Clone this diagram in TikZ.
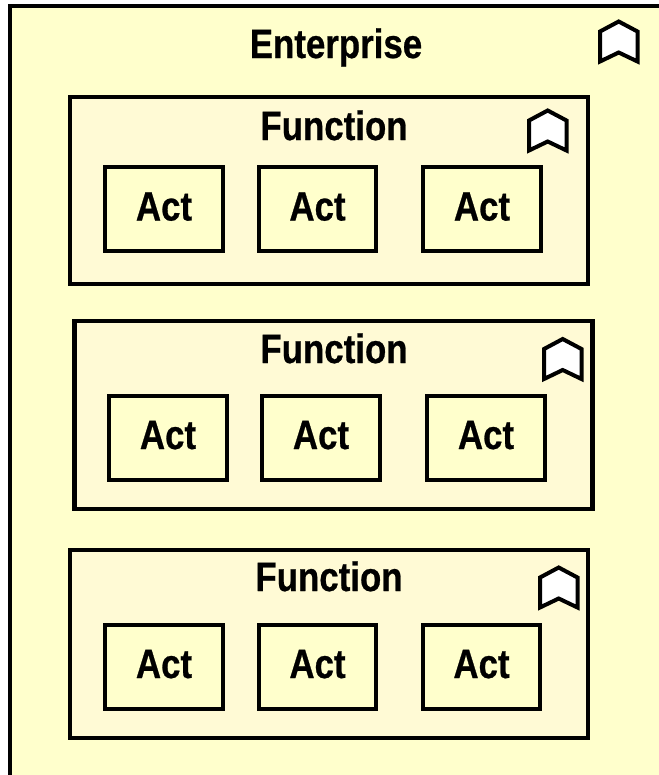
\documentclass[tikz,border=0pt]{standalone}
\usepackage{fontspec}
\newfontfamily\labelfont[FakeStretch=0.85,FakeBold=0.6]{Liberation Sans Bold}
\definecolor{outerfill}{HTML}{FFFFCC}
\definecolor{funcfill}{HTML}{FFFAD5}
\definecolor{actfill}{HTML}{FFFFCC}
\tikzset{
  px/.style={x=0.75pt,y=-0.75pt},
  funcbox/.style={draw=black,line width=3.1pt,fill=funcfill,rectangle,inner sep=0pt,minimum width=388.5pt,minimum height=140.5pt},
  actbox/.style={draw=black,line width=3pt,fill=actfill,rectangle,inner sep=0pt,minimum width=88pt,minimum height=63pt,
    font=\labelfont\fontsize{30.75pt}{32pt}\selectfont,text height=17.25pt,text depth=0pt},
  titletext/.style={inner sep=0pt,anchor=base,font=\labelfont\fontsize{30.75pt}{32pt}\selectfont},
  bookmark/.pic={
    \draw[line width=3pt,fill=white,miter limit=10] (0,10) -- (18.7,0) -- (37.5,10) -- (37.5,40) -- (18.7,31) -- (0,40) -- cycle;
  }
}
\begin{document}
\begin{tikzpicture}[px]
\useasboundingbox (0,0) rectangle (659,775);
\fill[white] (0,0) rectangle (659,775);
\fill[outerfill] (10.3,6) rectangle (659,775);
\draw[line width=3.1pt] (10.3,775) -- (10.3,6) -- (659,6);
\node[titletext] (enterprise) at (336,58) {Enterprise};
\pic at (600,21.5) {bookmark};
% Function 1
\node[funcbox] (f1) at (329,190.5) {};
\node[titletext] (f1t) at (334,140) {Function};
\pic at (529,110.5) {bookmark};
\node[actbox] (a11) at (164,209) {Act};
\node[actbox] (a12) at (317.5,209) {Act};
\node[actbox] (a13) at (482,209) {Act};
% Function 2
\node[funcbox] (f2) at (333.5,415) {};
\node[titletext] (f2t) at (334,363) {Function};
\pic at (544,339) {bookmark};
\node[actbox] (a21) at (168,437.5) {Act};
\node[actbox] (a22) at (321,437.5) {Act};
\node[actbox] (a23) at (486,437.5) {Act};
% Function 3
\node[funcbox] (f3) at (329,644) {};
\node[titletext] (f3t) at (329,591) {Function};
\pic at (540,567.5) {bookmark};
\node[actbox] (a31) at (164,666.5) {Act};
\node[actbox] (a32) at (317.5,666.5) {Act};
\node[actbox] (a33) at (481.5,666.5) {Act};
\end{tikzpicture}
\end{document}
